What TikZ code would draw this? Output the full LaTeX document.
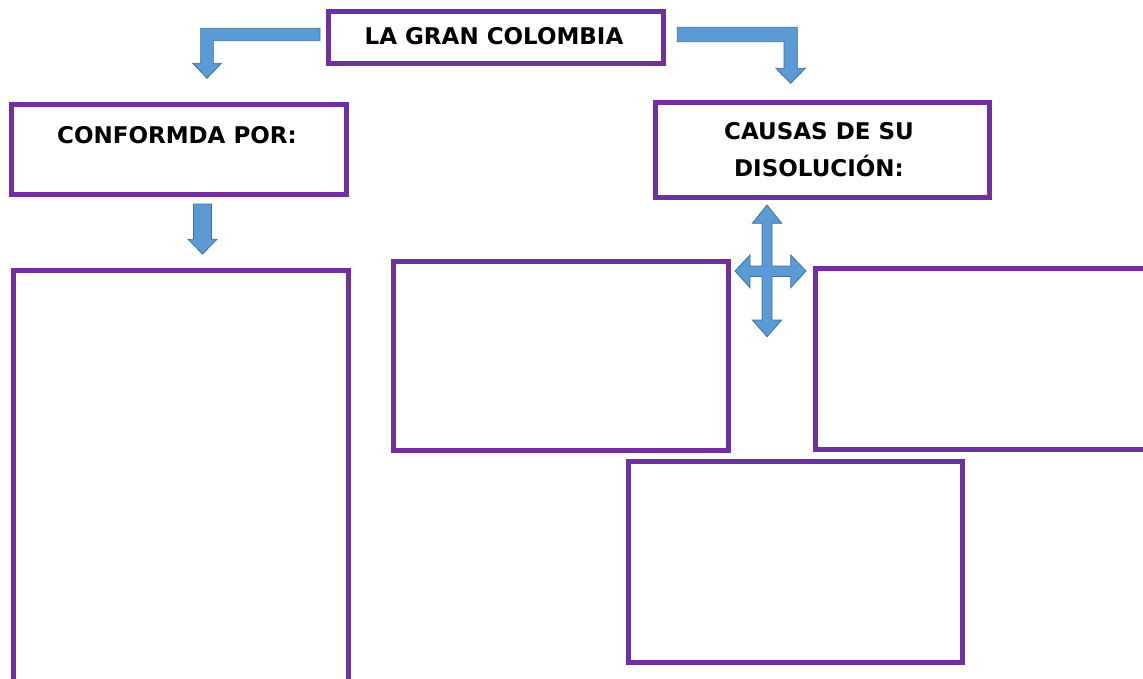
\documentclass[tikz,border=0pt]{standalone}
\usepackage{fontspec}
\setmainfont{DejaVu Sans}
\definecolor{boxpurple}{HTML}{7030A0}
\definecolor{arrowfill}{HTML}{5B9BD5}
\definecolor{arrowedge}{HTML}{41719C}
\begin{document}
\begin{tikzpicture}[x=1pt,y=-1pt,
  frame/.style={draw=boxpurple, line width=5pt, fill=white, inner sep=0pt, outer sep=0pt},
  label text/.style={anchor=base, inner sep=0pt, font=\fontsize{23}{27}\selectfont\bfseries},
  block arrow/.style={fill=arrowfill, draw=arrowedge, line width=0.8pt, line join=miter}]
\clip (0,0) rectangle (1143,678);
\fill[white] (0,0) rectangle (1143,678);

% boxes
\node[frame, minimum width=334.7pt, minimum height=51.8pt] (title) at (495.9,37.4) {};
\node[frame, minimum width=334.8pt, minimum height=89.7pt] (conf) at (179.1,149.35) {};
\node[frame, minimum width=334.8pt, minimum height=94.4pt] (causas) at (822.4,150) {};
\node[frame, minimum width=335.1pt, minimum height=440pt] (left) at (180.75,490) {};
\node[frame, minimum width=335pt, minimum height=189pt] (mid) at (561,356.3) {};
\node[frame, minimum width=360pt, minimum height=180.9pt] (right) at (995.5,358.75) {};
\node[frame, minimum width=334pt, minimum height=201pt] (bottom) at (795.5,562) {};

% texts
\node[label text] (titletext) at (494,44) {LA GRAN COLOMBIA};
\node[label text] (conftext) at (177,143.5) {CONFORMDA POR:};
\node[label text] (causastext1) at (819,139) {CAUSAS DE SU};
\node[label text] (causastext2) at (819,176) {DISOLUCIÓN:};

% block arrows
\draw[block arrow] (320,28.3) -- (200.7,28.3) -- (200.7,63.3) -- (192.7,63.3) -- (207,78.3)
  -- (221.3,63.3) -- (213.3,63.3) -- (213.3,40.7) -- (320,40.7) -- cycle;
\draw[block arrow] (677.3,27.3) -- (797.3,27.3) -- (797.3,68.3) -- (805.3,68.3) -- (790.6,83.3)
  -- (775.9,68.3) -- (784,68.3) -- (784,41.7) -- (677.3,41.7) -- cycle;
\draw[block arrow] (193.5,204) -- (211.5,204) -- (211.5,239.3) -- (217,239.3) -- (202.5,254)
  -- (188,239.3) -- (193.5,239.3) -- cycle;
\draw[block arrow] (767,205) -- (781.7,223.3) -- (772,223.3) -- (772,266) -- (790.7,266)
  -- (790.7,255) -- (806,271) -- (790.7,287.7) -- (790.7,276.5) -- (772,276.5) -- (772,320)
  -- (781.7,320) -- (767,336.7) -- (752.3,320) -- (762,320) -- (762,276.5) -- (750,276.5)
  -- (750,287.7) -- (735,271) -- (750,255) -- (750,266) -- (762,266) -- (762,223.3)
  -- (752.3,223.3) -- cycle;
\end{tikzpicture}
\end{document}
